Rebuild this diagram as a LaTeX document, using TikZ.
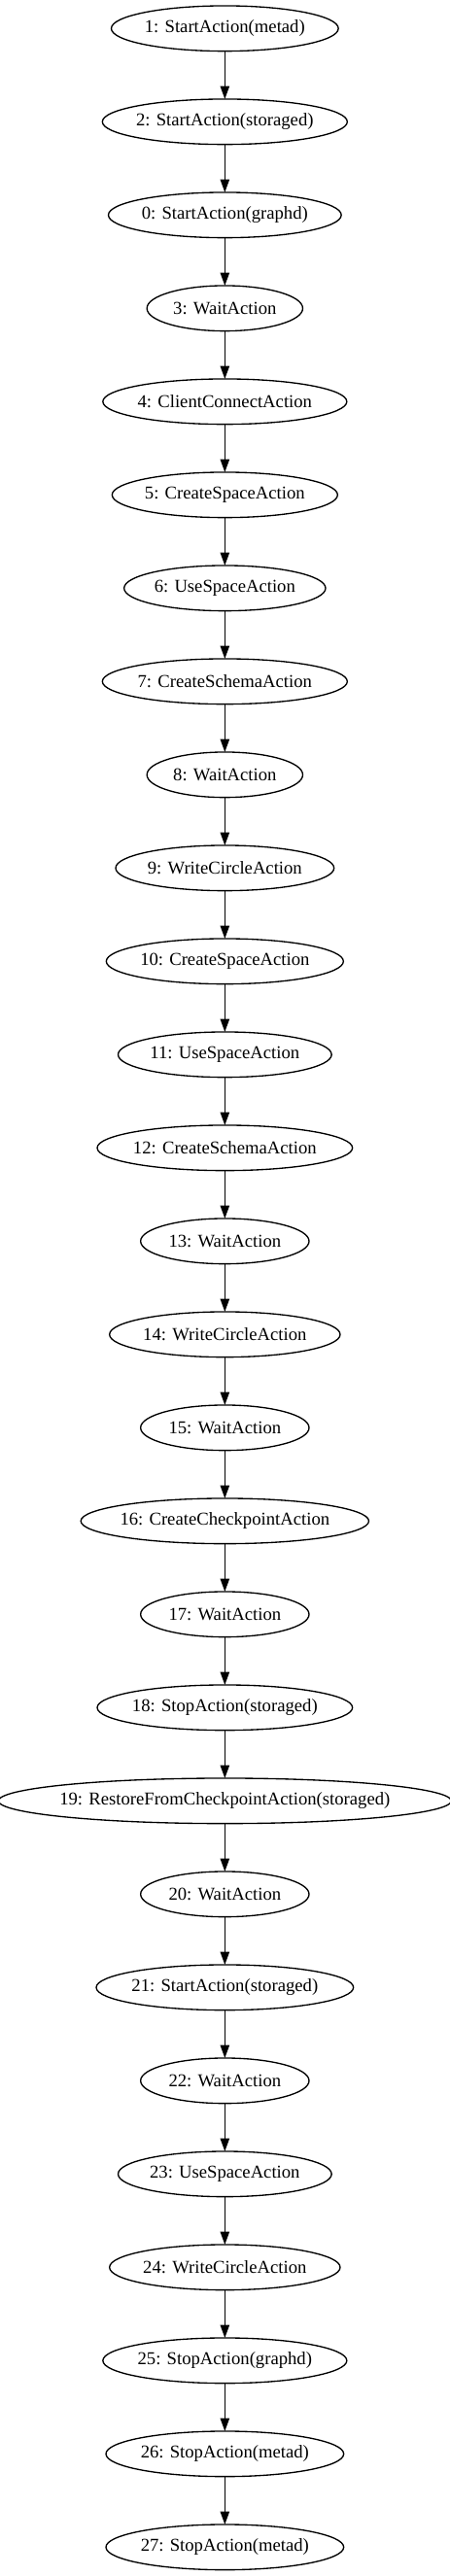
\documentclass[tikz,border=0pt]{standalone}
\usepackage{fontspec}
\setmainfont{Liberation Serif}
\usetikzlibrary{shapes.geometric,arrows.meta}
\tikzset{
    every picture/.style={
        line width=1pt
    },
    % Style for the action ellipses
    action node/.style={
        draw, ellipse,
        font=\fontsize{14pt}{16pt}\selectfont,
        inner xsep=-4pt, inner ysep=0pt,
        minimum height=35pt,
        outer sep=0pt
    },
    % Style for the edges
    flow edge/.style={
        -{Triangle[length=10pt,width=7pt]}
    }
}

\begin{document}
\begin{tikzpicture}[x=1pt,y=1pt]

% Set the canvas size
\path[use as bounding box] (0,0) rectangle (347.25,1988.25);

% Action nodes, top to bottom
\node[action node, minimum width=175.25pt] (act1)  at (173.5,1966.25) {1: StartAction(metad)};
\node[action node, minimum width=189pt]    (act2)  at (173.5,1894.25) {2: StartAction(storaged)};
\node[action node, minimum width=179.75pt] (act0)  at (173.5,1822.25) {0: StartAction(graphd)};
\node[action node, minimum width=120.25pt] (act3)  at (173.5,1750.25) {3: WaitAction};
\node[action node, minimum width=188.25pt] (act4)  at (173.5,1678.25) {4: ClientConnectAction};
\node[action node, minimum width=174pt]    (act5)  at (173.5,1606.25) {5: CreateSpaceAction};
\node[action node, minimum width=155.5pt]  (act6)  at (173.5,1534.25) {6: UseSpaceAction};
\node[action node, minimum width=189pt]    (act7)  at (173.5,1462.25) {7: CreateSchemaAction};
\node[action node, minimum width=120.25pt] (act8)  at (173.5,1390.25) {8: WaitAction};
\node[action node, minimum width=168.5pt]  (act9)  at (173.5,1318.25) {9: WriteCircleAction};
\node[action node, minimum width=183pt]    (act10) at (173.5,1246.25) {10: CreateSpaceAction};
\node[action node, minimum width=164.75pt] (act11) at (173.5,1174.25) {11: UseSpaceAction};
\node[action node, minimum width=197pt]    (act12) at (173.5,1102.25) {12: CreateSchemaAction};
\node[action node, minimum width=130pt]    (act13) at (173.5,1030.25) {13: WaitAction};
\node[action node, minimum width=178pt]    (act14) at (173.5,958.25)  {14: WriteCircleAction};
\node[action node, minimum width=130pt]    (act15) at (173.5,886.25)  {15: WaitAction};
\node[action node, minimum width=222.25pt] (act16) at (173.5,814.25)  {16: CreateCheckpointAction};
\node[action node, minimum width=130pt]    (act17) at (173.5,742.25)  {17: WaitAction};
\node[action node, minimum width=197pt]    (act18) at (173.5,670.25)  {18: StopAction(storaged)};
\node[action node, minimum width=339.75pt] (act19) at (173.5,598.25)  {19: RestoreFromCheckpointAction(storaged)};
\node[action node, minimum width=130pt]    (act20) at (173.5,526.25)  {20: WaitAction};
\node[action node, minimum width=198.5pt]  (act21) at (173.5,454.25)  {21: StartAction(storaged)};
\node[action node, minimum width=130pt]    (act22) at (173.5,382.25)  {22: WaitAction};
\node[action node, minimum width=164.75pt] (act23) at (173.5,310.25)  {23: UseSpaceAction};
\node[action node, minimum width=178pt]    (act24) at (173.5,238.25)  {24: WriteCircleAction};
\node[action node, minimum width=188.25pt] (act25) at (173.5,166.25)  {25: StopAction(graphd)};
\node[action node, minimum width=183.5pt]  (act26) at (173.5,94.25)   {26: StopAction(metad)};
\node[action node, minimum width=183.5pt]  (act27) at (173.5,22.25)   {27: StopAction(metad)};

% Edges
\draw[flow edge] (act1)  -- (act2);
\draw[flow edge] (act2)  -- (act0);
\draw[flow edge] (act0)  -- (act3);
\draw[flow edge] (act3)  -- (act4);
\draw[flow edge] (act4)  -- (act5);
\draw[flow edge] (act5)  -- (act6);
\draw[flow edge] (act6)  -- (act7);
\draw[flow edge] (act7)  -- (act8);
\draw[flow edge] (act8)  -- (act9);
\draw[flow edge] (act9)  -- (act10);
\draw[flow edge] (act10) -- (act11);
\draw[flow edge] (act11) -- (act12);
\draw[flow edge] (act12) -- (act13);
\draw[flow edge] (act13) -- (act14);
\draw[flow edge] (act14) -- (act15);
\draw[flow edge] (act15) -- (act16);
\draw[flow edge] (act16) -- (act17);
\draw[flow edge] (act17) -- (act18);
\draw[flow edge] (act18) -- (act19);
\draw[flow edge] (act19) -- (act20);
\draw[flow edge] (act20) -- (act21);
\draw[flow edge] (act21) -- (act22);
\draw[flow edge] (act22) -- (act23);
\draw[flow edge] (act23) -- (act24);
\draw[flow edge] (act24) -- (act25);
\draw[flow edge] (act25) -- (act26);
\draw[flow edge] (act26) -- (act27);

\end{tikzpicture}
\end{document}
